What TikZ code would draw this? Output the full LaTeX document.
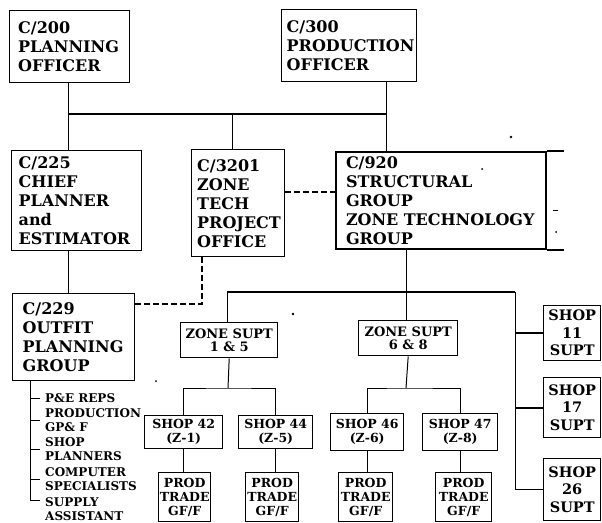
\documentclass[tikz,border=0pt]{standalone}
\usepackage{fontspec}
\setmainfont{DejaVu Serif}

\begin{document}
\begin{tikzpicture}[x=1pt,y=-1pt,
  box/.style={draw,line width=1.4pt,anchor=north west,inner sep=0pt,align=left,
    font=\fontsize{16}{19}\selectfont\bfseries},
  small/.style={draw,line width=1.4pt,anchor=north west,inner sep=0pt,align=center,
    font=\fontsize{12.5}{14}\selectfont\bfseries},
  zonebox/.style={small,font=\fontsize{13}{13.5}\selectfont\bfseries},
  shopbox/.style={small,font=\fontsize{14.5}{17.5}\selectfont\bfseries},
  item/.style={anchor=west,inner sep=0pt,align=left,
    font=\fontsize{12}{14}\selectfont\bfseries},
  bus/.style={line width=2.2pt},
  link/.style={line width=1pt},
  dashlink/.style={line width=1.2pt,dash pattern=on 6pt off 3pt}]
\useasboundingbox (0,0) rectangle (602,522);

% top level
\node[box,minimum width=120pt,minimum height=72pt,text width=103pt] (c200) at (9,10) {C/200\\PLANNING\\OFFICER};
\node[box,minimum width=135pt,minimum height=72pt,text width=125pt] (c300) at (281,9) {C/300\\PRODUCTION\\OFFICER};

% second level
\node[box,minimum width=130pt,minimum height=100pt,text width=116pt] (c225) at (11,150) {C/225\\CHIEF\\PLANNER\\and\\ESTIMATOR};
\node[box,minimum width=93pt,minimum height=107pt,text width=82pt] (c3201) at (191,149) {C/3201\\ZONE\\TECH\\PROJECT\\OFFICE};
\node[box,line width=2pt,minimum width=210pt,minimum height=97pt,text width=190pt] (c920) at (335,151) {C/920\\STRUCTURAL\\GROUP\\ZONE TECHNOLOGY\\GROUP};
\node[box,minimum width=122pt,minimum height=87pt,text width=102pt] (c229) at (12,293) {C/229\\OUTFIT\\PLANNING\\GROUP};

% zone supts and shops
\node[zonebox,minimum width=97pt,minimum height=35pt] (z15) at (180,322) {ZONE SUPT\\1 \& 5};
\node[zonebox,minimum width=99pt,minimum height=35pt] (z68) at (358,320) {ZONE SUPT\\6 \& 8};
\node[small,minimum width=78pt,minimum height=33pt] (s42) at (144,415) {SHOP 42\\(Z-1)};
\node[small,minimum width=74pt,minimum height=33pt] (s44) at (238,415) {SHOP 44\\(Z-5)};
\node[small,minimum width=73pt,minimum height=37pt] (s46) at (330,413) {SHOP 46\\(Z-6)};
\node[small,minimum width=75pt,minimum height=37pt] (s47) at (422,413) {SHOP 47\\(Z-8)};
\node[small,minimum width=52pt,minimum height=49pt] (p1) at (158,472) {PROD\\TRADE\\GF/F};
\node[small,minimum width=53pt,minimum height=49pt] (p2) at (245,472) {PROD\\TRADE\\GF/F};
\node[small,minimum width=54pt,minimum height=49pt] (p3) at (338,472) {PROD\\TRADE\\GF/F};
\node[small,minimum width=56pt,minimum height=49pt] (p4) at (435,472) {PROD\\TRADE\\GF/F};
\node[shopbox,minimum width=57pt,minimum height=55pt] (shop11) at (543,305) {SHOP\\11\\SUPT};
\node[shopbox,minimum width=57pt,minimum height=60pt] (shop17) at (543,377) {SHOP\\17\\SUPT};
\node[shopbox,minimum width=57pt,minimum height=62pt] (shop26) at (543,458) {SHOP\\26\\SUPT};

% outfit planning list
\node[item] (l1) at (45,398) {P\&E REPS};
\node[item] (l2) at (45,420) {PRODUCTION\\GP\& F};
\node[item] (l3) at (45,449) {SHOP\\PLANNERS};
\node[item] (l4) at (45,479) {COMPUTER\\SPECIALISTS};
\node[item] (l5) at (45,509) {SUPPLY\\ASSISTANT};

% upper lines
\coordinate (busL) at (68,114);
\coordinate (busM) at (232,114);
\coordinate (busR) at (386,114);
\draw[bus] (busL) -- (busR);
\draw[link] (busL |- c200.south) -- (busL |- c225.north);
\draw[link] (busR |- c300.south) -- (busR |- c920.north);
\draw[link] (busM) -- (busM |- c3201.north);
\draw[link] (busL |- c225.south) -- (busL |- c229.north);
\draw[line width=2pt] (c920.north east) -- ++(17,0);
\draw[line width=2pt] (c920.south east) -- ++(17,0);

% dashed lines
\coordinate (dashA) at (0,192);
\coordinate (dashB) at (202,304);
\draw[dashlink] (c3201.east |- dashA) -- (c920.west |- dashA);
\draw[dashlink] (dashB |- c3201.south) -- (dashB) -- (dashB -| c229.east);

% lower lines
\coordinate (bus2L) at (227,292);
\coordinate (bus2M) at (406,292);
\coordinate (bus2R) at (515,292);
\draw[link] (bus2M |- c920.south) -- (bus2M |- z68.north);
\draw[bus] (bus2L) -- (bus2R);
\draw[link] (bus2L) -- (bus2L |- z15.north);
\draw[link] (bus2R) |- (shop26.west);
\draw[line width=1.6pt] (bus2R |- shop11.west) -- (shop11.west);
\draw[line width=1.6pt] (bus2R |- shop17.west) -- (shop17.west);

\coordinate (t15) at (228,388);
\coordinate (t68) at (406,388);
\draw[link] (z15.south) -- (t15);
\draw[link] (s42.north) |- (t15) -| (s44.north);
\draw[link] (z68.south) -- (t68);
\draw[link] (s46.north) |- (t68) -| (s47.north);
\foreach \s/\p in {s42/p1,s44/p2,s46/p3,s47/p4}
  \draw[link] (\s.south) -- (\s.south |- \p.north);

% list bracket
\coordinate (brk) at (30,380);
\draw[link] (brk) |- ([xshift=-5pt,yshift=9pt]l5.west);
\foreach \n in {l1,l2,l3,l4}
  \draw[link] (brk |- \n.west) -- ([xshift=-5pt]\n.west);

% specks
\fill (511,137) circle (1.3pt);
\fill (482,169) circle (1pt);
\fill (293,314) circle (1.3pt);
\fill (156,381) circle (1pt);
\fill (556,232) circle (1pt);
\draw[line width=1pt] (553,210) -- (558,210);
\end{tikzpicture}
\end{document}
